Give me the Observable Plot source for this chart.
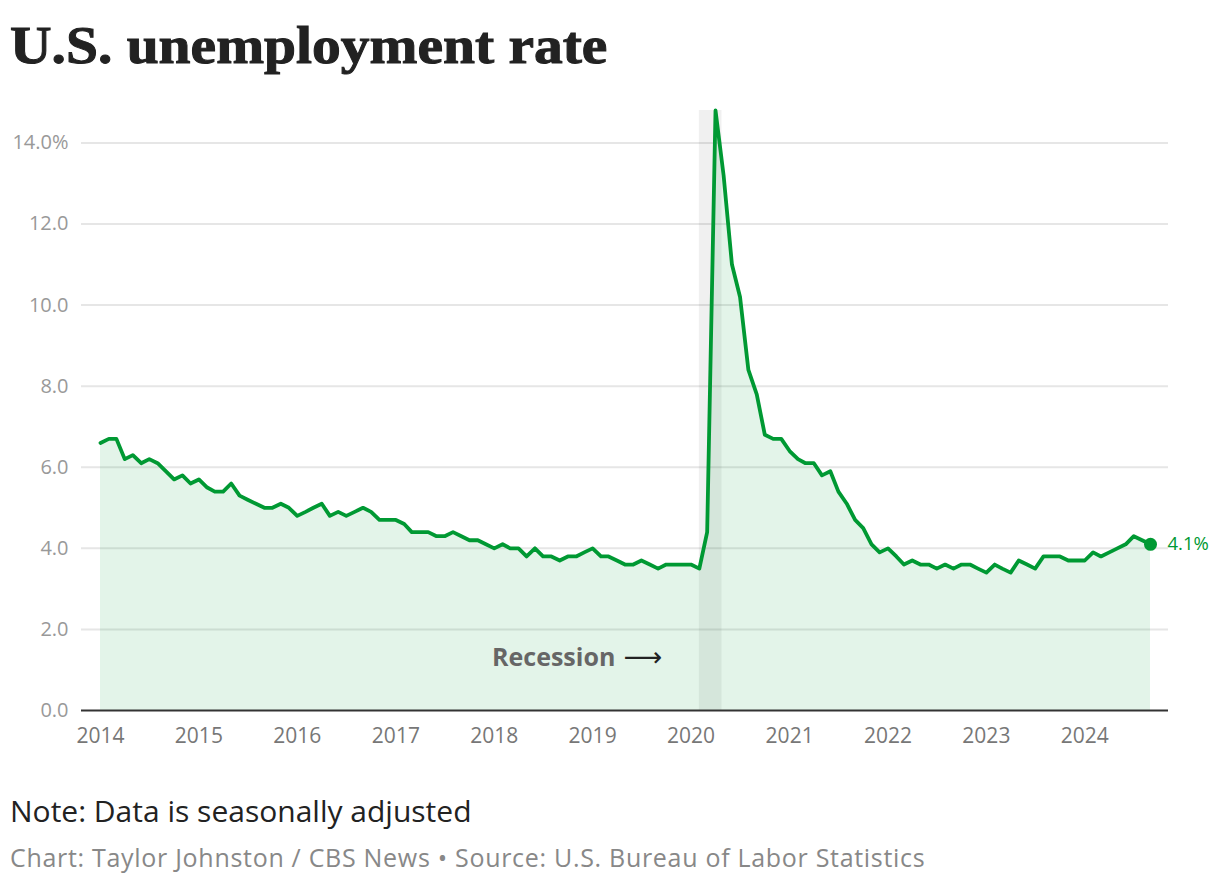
<!DOCTYPE html>
<html><head><meta charset="utf-8">
<script src="https://cdn.jsdelivr.net/npm/d3@7"></script>
<script src="https://cdn.jsdelivr.net/npm/@observablehq/plot@0.6"></script>
<style>
body{margin:0;background:#fff;width:1220px;height:886px;overflow:hidden;font-family:"Open Sans",sans-serif;position:relative;}
#title{position:absolute;left:10px;top:19px;font-family:"Liberation Serif",serif;font-weight:bold;font-size:53px;line-height:53px;color:#222;white-space:nowrap;-webkit-text-stroke:1px #222;transform:scaleX(1.085);transform-origin:0 0;}
#chart{position:absolute;left:0;top:90px;}
#note{position:absolute;left:10px;top:796px;font-size:30px;line-height:1;color:#222;white-space:nowrap;}
#source{position:absolute;left:10px;top:845px;font-size:25px;line-height:1;letter-spacing:0.7px;color:#888;white-space:nowrap;}
</style></head>
<body>
<div id="title">U.S. unemployment rate</div>
<div id="chart"></div>
<div id="note">Note: Data is seasonally adjusted</div>
<div id="source">Chart: Taylor Johnston / CBS News • Source: U.S. Bureau of Labor Statistics</div>
<script>
// Monthly unemployment rate (%), seasonally adjusted, Jan 2014 – Sep 2024
const startYear = 2014;
const rates = [
  6.6, 6.7, 6.7, 6.2, 6.3, 6.1, 6.2, 6.1, 5.9, 5.7, 5.8, 5.6,   // 2014
  5.7, 5.5, 5.4, 5.4, 5.6, 5.3, 5.2, 5.1, 5.0, 5.0, 5.1, 5.0,   // 2015
  4.8, 4.9, 5.0, 5.1, 4.8, 4.9, 4.8, 4.9, 5.0, 4.9, 4.7, 4.7,   // 2016
  4.7, 4.6, 4.4, 4.4, 4.4, 4.3, 4.3, 4.4, 4.3, 4.2, 4.2, 4.1,   // 2017
  4.0, 4.1, 4.0, 4.0, 3.8, 4.0, 3.8, 3.8, 3.7, 3.8, 3.8, 3.9,   // 2018
  4.0, 3.8, 3.8, 3.7, 3.6, 3.6, 3.7, 3.6, 3.5, 3.6, 3.6, 3.6,   // 2019
  3.6, 3.5, 4.4, 14.8, 13.2, 11.0, 10.2, 8.4, 7.8, 6.8, 6.7, 6.7, // 2020
  6.4, 6.2, 6.1, 6.1, 5.8, 5.9, 5.4, 5.1, 4.7, 4.5, 4.1, 3.9,   // 2021
  4.0, 3.8, 3.6, 3.7, 3.6, 3.6, 3.5, 3.6, 3.5, 3.6, 3.6, 3.5,   // 2022
  3.4, 3.6, 3.5, 3.4, 3.7, 3.6, 3.5, 3.8, 3.8, 3.8, 3.7, 3.7,   // 2023
  3.7, 3.9, 3.8, 3.9, 4.0, 4.1, 4.3, 4.2, 4.1                   // 2024
];
const yearTicks = [2014, 2015, 2016, 2017, 2018, 2019, 2020, 2021, 2022, 2023, 2024];
const yTicks = [0, 2, 4, 6, 8, 10, 12, 14];
const recessionStart = "2020-02-01";
const recessionEnd = "2020-04-25";
const recessionLabel = "Recession";

const data = rates.map((v, i) => ({date: d3.utcMonth.offset(new Date(Date.UTC(startYear, 0, 1)), i), rate: v}));
const last = data[data.length - 1];
const yMax = d3.max(rates);
const recStart = new Date(recessionStart + "T00:00:00Z");
const recEnd = new Date(recessionEnd + "T00:00:00Z");
const green = "#009933";

const chart = Plot.plot({
  width: 1220, height: 680,
  marginLeft: 81, marginRight: 52, marginTop: 20, marginBottom: 60,
  style: {fontFamily: "'Open Sans', sans-serif", background: "transparent", overflow: "visible"},
  x: {type: "utc", domain: [data[0].date, last.date], insetLeft: 19, insetRight: 18},
  y: {domain: [0, yMax]},
  marks: [
    Plot.gridY(yTicks.filter(d => d > 0), {stroke: "#e6e6e6", strokeOpacity: 1, strokeWidth: 2}),
    Plot.rect([{x1: recStart, x2: recEnd}], {x1: "x1", x2: "x2", y1: 0, y2: yMax, fill: "#000", fillOpacity: 0.06}),
    Plot.areaY(data, {x: "date", y: "rate", fill: green, fillOpacity: 0.11}),
    Plot.ruleY([0], {stroke: "#333", strokeWidth: 2}),
    Plot.lineY(data, {x: "date", y: "rate", stroke: green, strokeWidth: 3.8, strokeLinejoin: "round"}),
    Plot.dot([last], {x: "date", y: "rate", r: 6.5, fill: green}),
    Plot.text([last], {x: "date", y: "rate", text: d => d.rate.toFixed(1) + "%", textAnchor: "start", dx: 17, fill: green, fontSize: 18.5}),
    Plot.text([{date: recStart, y: 1.3}], {x: "date", y: "y", text: () => recessionLabel, textAnchor: "end", dx: -84, fill: "#666", fontWeight: "bold", fontSize: 25}),
    Plot.text([{date: recStart, y: 1.3}], {x: "date", y: "y", text: () => "\u27F6", textAnchor: "end", dx: -37, fill: "#222", fontSize: 27, fontFamily: "DejaVu Sans"}),
    Plot.axisX({ticks: yearTicks.map(y => new Date(Date.UTC(y, 0, 1))), tickFormat: d3.utcFormat("%Y"), tickSize: 0, tickPadding: 18, fontSize: 21, fill: "#777", label: null}),
    Plot.axisY({ticks: yTicks, tickFormat: d => d === 14 ? d.toFixed(1) + "%" : d.toFixed(1), tickSize: 0, tickPadding: 13, fontSize: 20, fill: "#999", label: null})
  ]
});
document.getElementById("chart").appendChild(chart);
</script>
</body></html>
